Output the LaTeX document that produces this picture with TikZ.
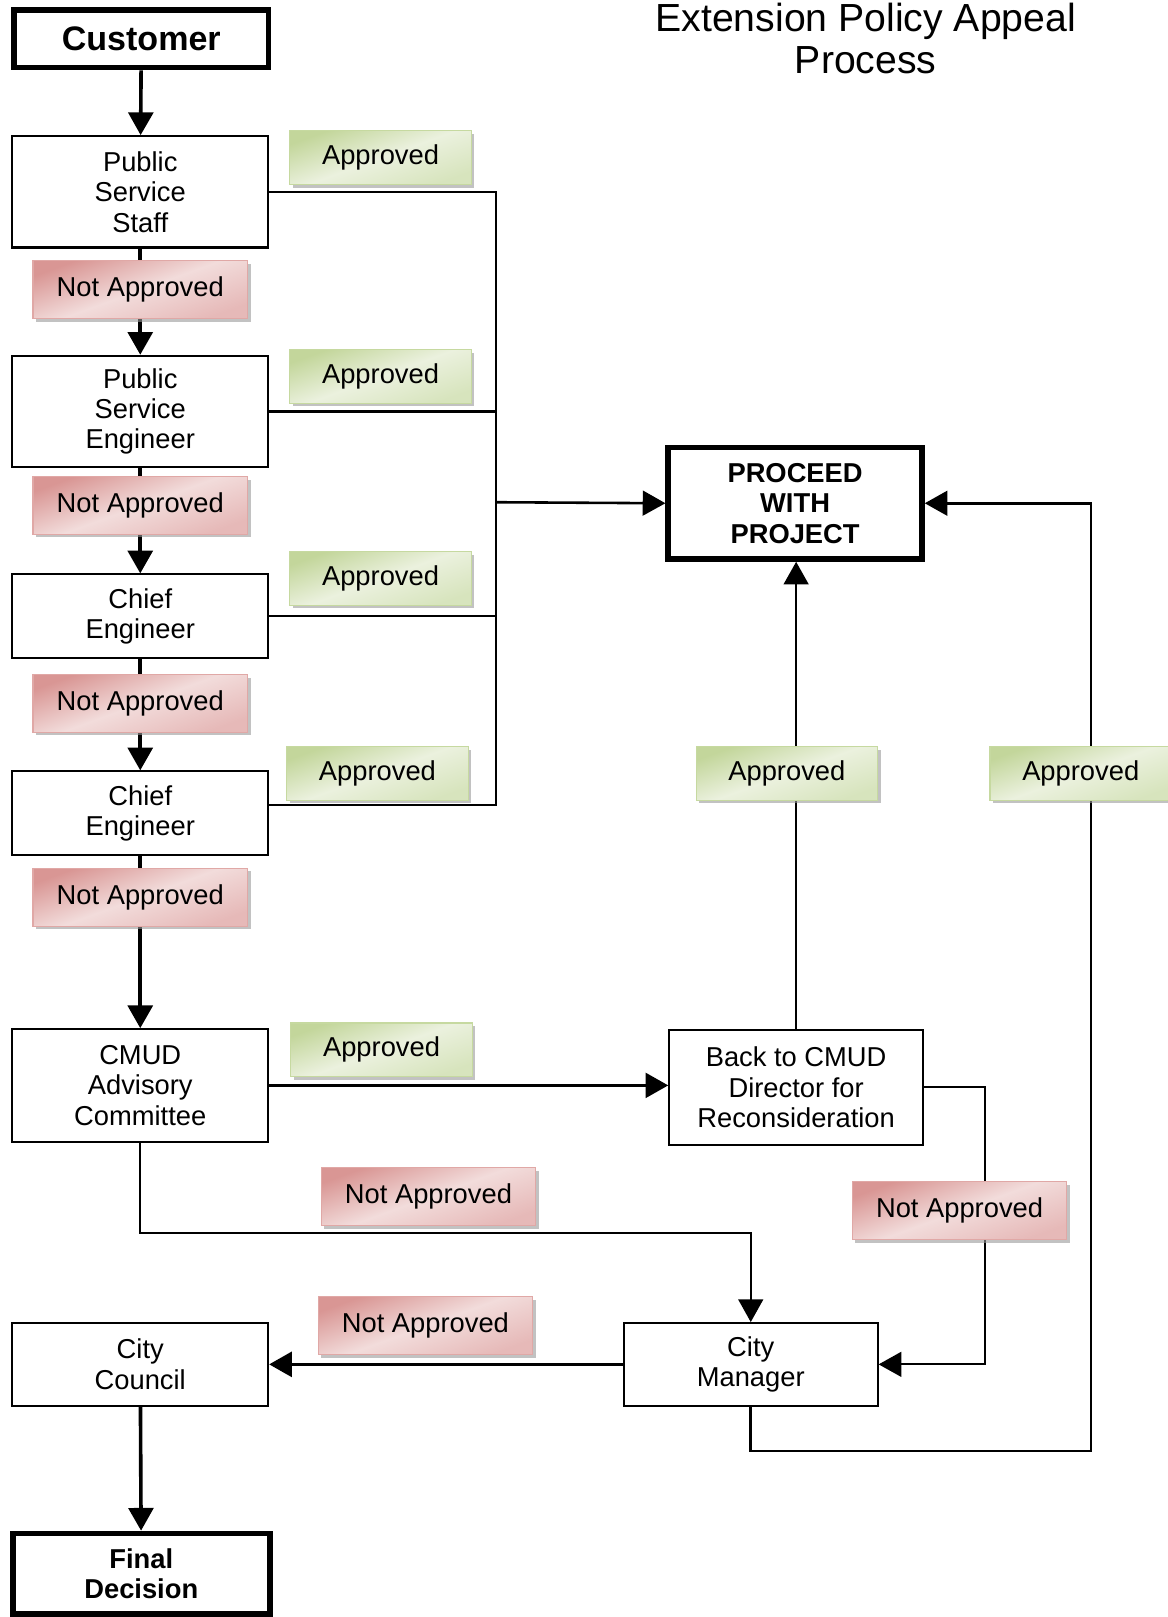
\documentclass[tikz,border=0pt]{standalone}
\usepackage{fontspec}
\setmainfont{Liberation Sans}
\usetikzlibrary{arrows.meta,shadows}
\definecolor{apdark}{HTML}{C3D69B}
\definecolor{apmid}{HTML}{D7E4BD}
\definecolor{aplight}{HTML}{EBF1DE}
\definecolor{apline}{HTML}{C6D9A0}
\definecolor{nadark}{HTML}{D99694}
\definecolor{namid}{HTML}{E6B9B8}
\definecolor{nalight}{HTML}{F2DCDB}
\definecolor{naline}{HTML}{E0A8A6}
\begin{document}
\begin{tikzpicture}[x=1pt, y=-1pt,
  box/.style={draw, line width=2pt, minimum width=248pt, align=center,
    font=\fontsize{26.5}{29.5}\selectfont},
  endbox/.style={box, line width=5.5pt, font=\fontsize{26.5}{29.5}\selectfont\bfseries},
  tag/.style={draw, line width=1pt, font=\fontsize{26.5}{29.5}\selectfont,
    drop shadow={shadow xshift=3pt, shadow yshift=-3pt, fill=black!40, opacity=.6}},
  oktag/.style={tag, draw=apline, minimum width=176pt, minimum height=52pt,
    top color=apdark, bottom color=apmid, middle color=aplight, shading angle=20},
  notag/.style={tag, draw=naline, minimum width=208pt, minimum height=56pt,
    top color=nadark, bottom color=namid, middle color=nalight, shading angle=20},
  flow/.style={line width=3.5pt, -{Triangle[width=24pt,length=22pt]}},
  link/.style={line width=2pt}]
  \useasboundingbox (0,0) rectangle (1132,1568);
  \node[font=\fontsize{38}{41}\selectfont, align=center, anchor=north, inner sep=0pt]
    (title) at (839.5,3) {Extension Policy Appeal\\Process};
  \node[endbox, minimum width=247pt, minimum height=56pt,
    font=\fontsize{33}{36}\selectfont\bfseries] (customer) at (137,37.5) {Customer};
  \node[box, minimum height=108pt] (staff) at (136,186) {Public\\Service\\Staff};
  \node[box, minimum height=108pt] (engineer) at (136,399) {Public\\Service\\Engineer};
  \node[box, minimum height=81pt] (chief1) at (136,597.5) {Chief\\Engineer};
  \node[box, minimum height=81pt] (chief2) at (136,788.5) {Chief\\Engineer};
  \node[box, minimum height=109pt] (committee) at (136,1052.5) {CMUD\\Advisory\\Committee};
  \node[box, minimum height=80pt] (council) at (136,1323) {City\\Council};
  \node[endbox, minimum width=249pt, minimum height=78pt] (decision) at (137,1526) {Final\\Decision};
  \node[endbox, minimum width=246pt, minimum height=108pt] (proceed) at (771,488) {PROCEED\\WITH\\PROJECT};
  \node[box, minimum width=246pt, minimum height=111pt] (director) at (772,1054.5)
    {Back to CMUD\\Director for\\Reconsideration};
  \node[box, minimum width=246pt, minimum height=80pt] (manager) at (728,1323) {City\\Manager};
  \coordinate (bus) at (481,487);

  \draw[flow] (customer) -- (staff);
  \draw[flow] (staff) -- (engineer);
  \draw[flow] (engineer) -- (chief1);
  \draw[flow] (chief1) -- (chief2);
  \draw[flow] (chief2) -- (committee);
  \draw[flow] (council) -- (decision);
  \draw[flow] (manager) -- (council);
  \draw[flow, line width=3pt] (committee.east) -- (committee.east -| director.west);
  \draw[link] (staff.east) -| (bus) |- ([yshift=8pt]chief2.east);
  \draw[link] (engineer.east) -- (engineer.east -| bus);
  \draw[link] (chief1.east) -- (chief1.east -| bus);
  \draw[flow, line width=2.5pt] (bus) -- (proceed.west);
  \draw[flow, line width=2.5pt] (director.north) -- (director.north |- proceed.south);
  \draw[flow, line width=2pt] (committee.south) -- ++(0,88) -| (manager.north);
  \draw[flow, line width=2pt] (director.east) -- ++(59,0) |- (manager.east);
  \draw[flow, line width=2.5pt] (manager.south) -- ++(0,43) -- ++(330,0) |- (proceed.east);

  \node[oktag] (ok1) at (369,153) {Approved};
  \node[oktag] (ok2) at (369,365) {Approved};
  \node[oktag] (ok3) at (369,561) {Approved};
  \node[oktag] (ok4) at (366,750) {Approved};
  \node[oktag] (ok5) at (370,1018) {Approved};
  \node[oktag] (ok6) at (763,750) {Approved};
  \node[oktag] (ok7) at (1048,750) {Approved};
  \node[notag] (no1) at (136,281) {Not Approved};
  \node[notag] (no2) at (136,490) {Not Approved};
  \node[notag] (no3) at (136,682) {Not Approved};
  \node[notag] (no4) at (136,870) {Not Approved};
  \node[notag] (no5) at (415.5,1160.5) {Not Approved};
  \node[notag] (no6) at (412.5,1285.5) {Not Approved};
  \node[notag] (no7) at (930.5,1174) {Not Approved};
\end{tikzpicture}
\end{document}
